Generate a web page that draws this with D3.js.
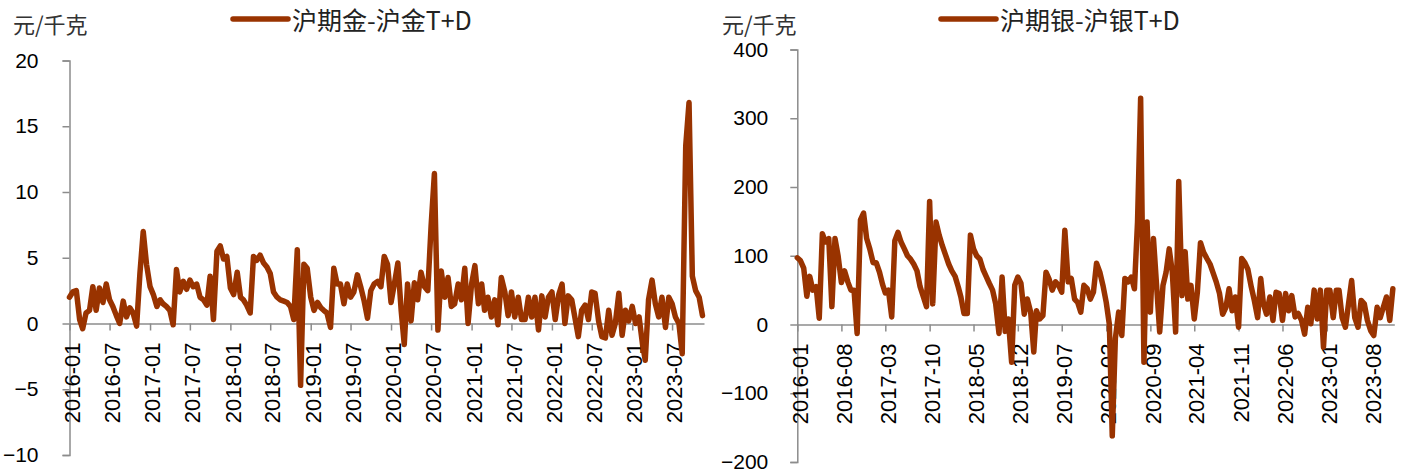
<!DOCTYPE html>
<html>
<head>
<meta charset="utf-8">
<script src="https://cdn.jsdelivr.net/npm/d3@7/dist/d3.min.js"></script>
<style>
html,body{margin:0;padding:0;background:#fff;}
svg{display:block;}
</style>
</head>
<body>
<svg id="chart" width="1407" height="475"></svg>
<script>
// ---------------- DATA ----------------
// Half-monthly samples (1st and 16th of each month), starting 2016-01-01
const startYear = 2016;
const goldSeriesName = "沪期金-沪金T+D";
const silverSeriesName = "沪期银-沪银T+D";
const unitLabel = "元/千克";

const goldSpread = [
  2.0,2.4,2.5,0.3,-0.4,0.8,1.0,2.8,1.0,2.7,1.6,3.0,1.8,1.3,0.6,0.0,1.7,0.5,1.2,0.8,-0.2,3.8,7.0,4.5,
  2.8,2.2,1.3,1.8,1.5,1.3,1.0,-0.1,4.1,2.4,3.2,2.6,3.3,2.8,3.0,2.0,1.8,1.4,3.6,0.3,5.5,5.9,4.9,5.1,
  2.7,2.2,3.9,2.0,1.8,1.4,0.8,5.1,4.8,5.2,4.6,4.3,3.8,2.4,2.0,1.8,1.7,1.6,1.3,0.3,5.6,-4.7,4.5,4.2,
  2.0,1.0,1.6,1.2,1.0,0.8,-0.3,4.2,3.0,3.0,1.5,3.0,2.0,2.4,3.7,2.8,1.7,0.4,2.5,3.0,3.2,2.8,5.1,4.5,
  1.6,3.0,4.6,1.0,-1.6,3.0,0.2,3.1,1.8,3.9,2.8,2.5,7.4,11.4,-0.5,4.0,2.0,3.5,1.3,1.5,3.0,1.8,4.2,0.0,
  3.0,4.4,1.5,3.0,1.0,2.0,0.5,1.8,-0.1,3.5,2.4,0.6,2.4,0.5,2.0,0.3,0.3,2.0,0.5,2.0,-0.5,2.1,0.5,2.0,
  2.4,0.3,2.2,3.0,0.0,2.1,1.8,0.4,-1.0,1.0,1.4,0.3,2.4,2.3,0.2,-1.0,-1.1,1.0,-0.9,0.0,2.3,-0.9,1.0,0.2,
  1.3,0.0,0.5,-1.5,-2.8,1.8,3.3,1.5,0.5,2.0,-0.3,2.0,1.5,0.5,0.0,-2.3,13.5,16.8,3.6,2.5,2.0,0.6
];

const silverSpread = [
  97,93,82,41,70,50,55,9,132,120,125,26,125,100,61,78,62,50,50,-13,152,162,125,110,
  90,90,76,58,46,50,11,122,134,120,110,100,95,88,78,55,40,26,179,30,149,130,115,102,
  88,78,70,55,40,16,16,130,110,100,95,80,70,60,50,30,-13,69,-10,8,-55,57,69,60,
  15,37,18,-40,20,8,13,76,66,50,62,57,47,137,62,67,37,32,18,57,52,37,47,89,
  76,57,32,0,-162,-20,18,-16,67,62,69,52,149,329,-55,149,18,125,57,-11,57,76,110,76,
  -11,208,42,106,37,57,8,47,119,105,96,88,75,62,45,15,25,52,20,40,-4,96,90,80,
  55,35,10,67,30,15,40,6,47,45,6,45,20,42,11,16,6,-14,25,1,50,8,50,-33,
  50,50,10,50,50,10,-4,30,64,10,-4,35,30,6,-9,-16,25,10,25,40,6,52
];

const goldYTicks = [20, 15, 10, 5, 0, -5, -10];
const silverYTicks = [400, 300, 200, 100, 0, -100, -200];

const goldXTickLabels = ["2016-01","2016-07","2017-01","2017-07","2018-01","2018-07","2019-01","2019-07",
  "2020-01","2020-07","2021-01","2021-07","2022-01","2022-07","2023-01","2023-07"];
const silverXTickLabels = ["2016-01","2016-08","2017-03","2017-10","2018-05","2018-12","2019-07","2020-02",
  "2020-09","2021-04","2021-11","2022-06","2023-01","2023-08"];

// ---------------- DRAWING ----------------
const svg = d3.select("#chart");
const lineColor = "#993300";
const axisColor = "#8c8c8c";
const parseMonth = d3.timeParse("%Y-%m");
const domainStart = new Date(2016, 0, 1);
const domainEnd = new Date(2023, 10, 23);

function toSeries(values) {
  return values.map((v, i) => ({
    date: new Date(startYear, Math.floor(i / 2), (i % 2) ? 16 : 1),
    v: v
  }));
}

function drawPanel(cfg) {
  const x = d3.scaleTime().domain([domainStart, domainEnd]).range(cfg.xRange);
  const y = d3.scaleLinear().domain(cfg.yDomain).range(cfg.yRange);
  const g = svg.append("g");

  // y axis
  const yAxis = d3.axisLeft(y).tickValues(cfg.yTicks).tickSize(7).tickSizeOuter(7)
    .tickPadding(cfg.yPad).tickFormat(d3.format("d"));
  const ya = g.append("g").attr("transform", `translate(${cfg.xRange[0]},0)`).call(yAxis);
  ya.select(".domain").attr("stroke", axisColor).attr("stroke-width", 1.5);
  ya.selectAll(".tick line").attr("stroke", axisColor).attr("stroke-width", 1.5);
  ya.selectAll(".tick text")
    .attr("font-family", "'Liberation Sans', Arial, sans-serif")
    .attr("font-size", 21).attr("fill", "#000");

  // x axis at zero
  const tickDates = cfg.xTickLabels.map(parseMonth);
  const xAxis = d3.axisBottom(x).tickValues(tickDates).tickSize(7).tickSizeOuter(0)
    .tickFormat(d3.timeFormat("%Y-%m"));
  const xa = g.append("g").attr("transform", `translate(0,${y(0)})`).call(xAxis);
  xa.select(".domain").attr("stroke", axisColor).attr("stroke-width", 1.5);
  xa.selectAll(".tick line").attr("stroke", axisColor).attr("stroke-width", 1.5);
  xa.selectAll(".tick text")
    .attr("font-family", "'Liberation Sans', Arial, sans-serif")
    .attr("font-size", 22).attr("fill", "#000")
    .attr("text-anchor", "end")
    .attr("transform", "rotate(-90)")
    .attr("x", -19).attr("y", 2).attr("dy", "0.35em");

  // series line
  const line = d3.line().x(d => x(d.date)).y(d => y(d.v));
  g.append("path").datum(toSeries(cfg.values))
    .attr("fill", "none").attr("stroke", lineColor).attr("stroke-width", 5.5)
    .attr("stroke-linejoin", "round").attr("stroke-linecap", "round")
    .attr("d", line);

  // unit label
  g.append("text").attr("x", cfg.unitX).attr("y", 23)
    .attr("dominant-baseline", "central")
    .attr("font-family", "'Noto Sans CJK SC', sans-serif").attr("font-size", 22)
    .attr("fill", "#333").text(unitLabel);

  // legend
  g.append("line").attr("x1", cfg.legendX).attr("x2", cfg.legendX + 55)
    .attr("y1", 19).attr("y2", 19)
    .attr("stroke", lineColor).attr("stroke-width", 5.5).attr("stroke-linecap", "round");
  g.append("text").attr("x", cfg.legendX + 59).attr("y", 19)
    .attr("dominant-baseline", "central")
    .attr("font-family", "'Noto Sans CJK SC', sans-serif").attr("font-size", 25)
    .attr("fill", "#222").text(cfg.name);
}

drawPanel({
  values: goldSpread, name: goldSeriesName,
  xRange: [69.5, 704], yDomain: [-10, 20], yRange: [455, 60.5],
  yTicks: goldYTicks, xTickLabels: goldXTickLabels, yPad: 24,
  unitX: 13, legendX: 233
});

drawPanel({
  values: silverSpread, name: silverSeriesName,
  xRange: [797.3, 1394.3], yDomain: [-200, 400], yRange: [462, 49.5],
  yTicks: silverYTicks, xTickLabels: silverXTickLabels, yPad: 22,
  unitX: 722, legendX: 941
});
</script>
</body>
</html>
